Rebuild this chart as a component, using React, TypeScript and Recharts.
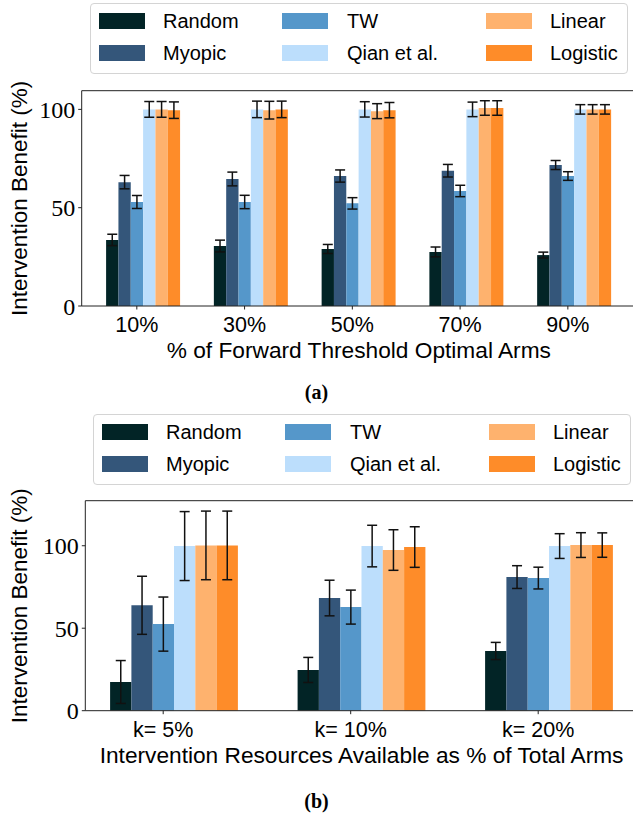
import React from 'react';
import { BarChart, Bar, XAxis, YAxis, ErrorBar, ReferenceLine, Label } from 'recharts';

const seriesNames = ['Random', 'Myopic', 'TW', 'Qian et al.', 'Linear', 'Logistic'];
const seriesKeys = ['random', 'myopic', 'tw', 'qian', 'linear', 'logistic'];
const seriesColors = ['#022426', '#34567a', '#5597ca', '#bcdefc', '#feb26e', '#fe8c29'];

// Chart (a)
const categoriesA = ['10%', '30%', '50%', '70%', '90%'];
const randomA = [33.6, 30.5, 29.0, 27.5, 25.9];
const randomErrA = [2.9, 3.0, 2.3, 2.5, 1.5];
const myopicA = [63.0, 64.6, 66.1, 68.8, 71.7];
const myopicErrA = [3.4, 3.5, 3.1, 3.2, 2.3];
const twA = [52.9, 52.9, 52.2, 58.5, 66.1];
const twErrA = [3.3, 3.4, 2.9, 2.9, 2.2];
const qianA = [100, 100, 100, 100, 100];
const qianErrA = [4.0, 4.2, 3.9, 3.7, 2.4];
const linearA = [100, 99.6, 99.1, 100.7, 100];
const linearErrA = [4.0, 4.5, 3.8, 3.7, 2.4];
const logisticA = [99.6, 100, 99.6, 100.7, 100];
const logisticErrA = [4.2, 4.2, 3.9, 3.7, 2.4];
const yTicksA = [0, 50, 100];

// Chart (b)
const categoriesB = ['k= 5%', 'k= 10%', 'k= 20%'];
const randomB = [17.4, 24.7, 36.2];
const randomErrB = [13.0, 7.6, 5.2];
const myopicB = [63.9, 68.3, 81.0];
const myopicErrB = [17.6, 10.8, 6.9];
const twB = [52.5, 62.8, 80.4];
const twErrB = [16.4, 10.3, 6.6];
const qianB = [99.8, 99.8, 99.8];
const qianErrB = [20.9, 12.6, 7.5];
const linearB = [100.2, 97.4, 100.4];
const linearErrB = [20.8, 12.3, 7.5];
const logisticB = [100.2, 99.2, 100.4];
const logisticErrB = [20.8, 12.3, 7.4];
const yTicksB = [0, 50, 100];

const buildRows = (cats: string[], vals: number[][], errs: number[][]) =>
  cats.map((c, i) => {
    const row: any = { cat: c };
    seriesKeys.forEach((k, s) => {
      row[k] = vals[s][i];
      row[k + '_err'] = errs[s][i];
    });
    return row;
  });

const dataA = buildRows(
  categoriesA,
  [randomA, myopicA, twA, qianA, linearA, logisticA],
  [randomErrA, myopicErrA, twErrA, qianErrA, linearErrA, logisticErrA]
);
const dataB = buildRows(
  categoriesB,
  [randomB, myopicB, twB, qianB, linearB, logisticB],
  [randomErrB, myopicErrB, twErrB, qianErrB, linearErrB, logisticErrB]
);

const SANS = '"Liberation Sans", Arial, sans-serif';
const SERIF = '"Liberation Serif", "DejaVu Serif", serif';
const AXIS = '#222';

const LegendBox = ({ left, top }: { left: number; top: number }) => (
  <div
    style={{
      position: 'absolute',
      left,
      top,
      width: 538,
      height: 71,
      border: '1px solid #d4d4d4',
      borderRadius: 4,
      boxSizing: 'border-box',
      background: '#fff',
    }}
  >
    {seriesNames.map((n, i) => {
      const col = Math.floor(i / 2);
      const row = i % 2;
      const colSw = [8, 191, 395][col];
      const colTx = [72, 256, 459][col];
      return (
        <React.Fragment key={n}>
          <div
            style={{
              position: 'absolute',
              left: colSw,
              top: 9 + row * 32,
              width: 46,
              height: 16,
              background: seriesColors[i],
            }}
          />
          <div
            style={{
              position: 'absolute',
              left: colTx,
              top: 3 + row * 32,
              fontFamily: SANS,
              fontSize: 20,
              lineHeight: '28px',
              color: '#000',
              whiteSpace: 'nowrap',
            }}
          >
            {n}
          </div>
        </React.Fragment>
      );
    })}
  </div>
);

type PanelProps = {
  data: any[];
  top: number;
  height: number;
  plotLeft: number;
  plotTop: number;
  plotBottom: number;
  plotRight: number;
  padL: number;
  padR: number;
  barSize: number;
  yMax: number;
  yTicks: number[];
  xTitle: string;
  capWidth: number;
};

const W = 660;

const Panel = (p: PanelProps) => {
  const xAxisH = 60;
  const shift = p.barSize / 2;
  const XTick = (props: any) => {
    const { x, payload } = props;
    const tx = x - shift;
    const y0 = p.plotBottom - p.top;
    return (
      <g>
        <line x1={tx} x2={tx} y1={y0} y2={y0 + 3.5} stroke={AXIS} strokeWidth={1} />
        <text x={tx} y={y0 + 26} textAnchor="middle" fontFamily={SANS} fontSize={21.5} fill="#000">
          {payload.value}
        </text>
      </g>
    );
  };
  return (
    <div style={{ position: 'absolute', left: 0, top: p.top }}>
      <BarChart
        width={W}
        height={p.height}
        data={p.data}
        barGap={0}
        barSize={p.barSize}
        margin={{
          top: p.plotTop - p.top,
          left: 0,
          right: W - p.plotRight,
          bottom: p.top + p.height - p.plotBottom - xAxisH,
        }}
      >
        <XAxis
          dataKey="cat"
          height={xAxisH}
          padding={{ left: p.padL, right: p.padR }}
          axisLine={{ stroke: AXIS, strokeWidth: 1 }}
          tickLine={false}
          tick={<XTick />}
          interval={0}
        >
          <Label
            content={(lp: any) => {
              const vb = lp.viewBox || {};
              return (
                <text
                  x={vb.x + vb.width / 2}
                  y={vb.y + 52}
                  textAnchor="middle"
                  fontFamily={SANS}
                  fontSize={22.7}
                  fill="#000"
                >
                  {p.xTitle}
                </text>
              );
            }}
          />
        </XAxis>
        <YAxis
          width={p.plotLeft}
          domain={[0, p.yMax]}
          ticks={p.yTicks}
          allowDataOverflow
          axisLine={{ stroke: AXIS, strokeWidth: 1 }}
          tickLine={{ stroke: AXIS, strokeWidth: 1 }}
          tickSize={3.5}
          tickMargin={3}
          tick={{ fontFamily: SERIF, fontSize: 24, fill: '#000' }}
        >
          <Label
            content={(lp: any) => {
              const vb = lp.viewBox || {};
              const cy = vb.y + vb.height / 2;
              return (
                <text
                  x={20}
                  y={cy}
                  transform={`rotate(-90, 20, ${cy})`}
                  textAnchor="middle"
                  dominantBaseline="central"
                  fontFamily={SANS}
                  fontSize={22.5}
                  fill="#000"
                >
                  Intervention Benefit (%)
                </text>
              );
            }}
          />
        </YAxis>
        <ReferenceLine y={p.yMax} stroke={AXIS} strokeWidth={1} ifOverflow="extendDomain" />
        {seriesKeys.map((k, i) => (
          <Bar key={k} dataKey={k} name={seriesNames[i]} fill={seriesColors[i]} isAnimationActive={false}>
            <ErrorBar
              dataKey={k + '_err'}
              width={p.capWidth}
              stroke="#111"
              strokeWidth={1.5}
              direction="y"
              isAnimationActive={false}
            />
          </Bar>
        ))}
      </BarChart>
    </div>
  );
};

const Caption = ({ top, text }: { top: number; text: string }) => (
  <div
    style={{
      position: 'absolute',
      left: 0,
      width: 633,
      top,
      textAlign: 'center',
      fontFamily: SERIF,
      fontWeight: 'bold',
      fontSize: 20,
      lineHeight: '22px',
      color: '#000',
    }}
  >
    {text}
  </div>
);

export default function App() {
  return (
    <div
      style={{
        position: 'fixed',
        left: 0,
        top: 0,
        width: 633,
        height: 818,
        overflow: 'hidden',
        background: '#fff',
      }}
    >
      <Panel
        data={dataA}
        top={0}
        height={405}
        plotLeft={81.7}
        plotTop={90.7}
        plotBottom={306}
        plotRight={636}
        padL={7.4}
        padR={8.1}
        barSize={12.33}
        yMax={109.5}
        yTicks={yTicksA}
        xTitle="% of Forward Threshold Optimal Arms"
        capWidth={5}
      />
      <Panel
        data={dataB}
        top={405}
        height={413}
        plotLeft={85.3}
        plotTop={500.7}
        plotBottom={710.7}
        plotRight={637.8}
        padL={-5.2}
        padR={-4.8}
        barSize={21.3}
        yMax={127.3}
        yTicks={yTicksB}
        xTitle="Intervention Resources Available as % of Total Arms"
        capWidth={5}
      />
      <LegendBox left={90} top={3} />
      <LegendBox left={93} top={414} />
      <Caption top={381} text="(a)" />
      <Caption top={790} text="(b)" />
    </div>
  );
}
